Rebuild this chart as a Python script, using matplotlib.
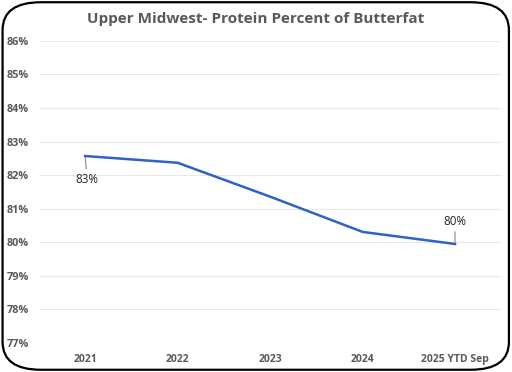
import matplotlib.pyplot as plt
from matplotlib.patches import FancyBboxPatch
from matplotlib.ticker import FuncFormatter

# data
years = ["2021", "2022", "2023", "2024", "2025 YTD Sep"]
protein_pct = [82.57, 82.37, 81.36, 80.31, 79.95]
y_ticks = [77, 78, 79, 80, 81, 82, 83, 84, 85, 86]

plt.rcParams["font.family"] = ["Open Sans", "DejaVu Sans"]

fig = plt.figure(figsize=(5.12, 3.72), dpi=100)

# rounded frame round the whole chart
frame = FancyBboxPatch((0.005, 0.006), 0.989, 0.988,
                       boxstyle="round,pad=0,rounding_size=0.075",
                       transform=fig.transFigure, facecolor="none",
                       edgecolor="black", linewidth=1.6, zorder=-1)
fig.patches.append(frame)

ax = fig.add_axes([0.076, 0.078, 0.903, 0.812])
ax.set_facecolor("none")

x = list(range(len(years)))
ax.plot(x, protein_pct, color="#2F62C8", linewidth=1.8)

ax.set_xlim(-0.5, len(years) - 0.5)
ax.set_ylim(77, 86)
ax.set_yticks(y_ticks)
ax.yaxis.set_major_formatter(FuncFormatter(lambda v, p: f"{v:.0f}%"))
ax.set_xticks(x)
ax.set_xticklabels(years)

ax.grid(axis="y", color="#E8E8E8", linewidth=0.8)
ax.set_axisbelow(True)
for s in ax.spines.values():
    s.set_visible(False)
ax.tick_params(length=0, labelsize=7.5, colors="#595959")
for lbl in ax.get_xticklabels() + ax.get_yticklabels():
    lbl.set_fontweight("bold")
ax.tick_params(axis="x", pad=8)
ax.tick_params(axis="y", pad=7, labelsize=7.8)

# data labels with leader lines
ax.annotate(f"{protein_pct[0]:.0f}%", xy=(x[0], protein_pct[0]),
            xytext=(x[0] + 0.02, protein_pct[0] - 0.7),
            ha="center", va="center", fontsize=8.3, color="#222222",
            arrowprops=dict(arrowstyle="-", color="#888888", lw=0.8,
                            shrinkA=1, shrinkB=1))
ax.annotate(f"{protein_pct[-1]:.0f}%", xy=(x[-1], protein_pct[-1]),
            xytext=(x[-1], protein_pct[-1] + 0.68),
            ha="center", va="center", fontsize=8.3, color="#222222",
            arrowprops=dict(arrowstyle="-", color="#888888", lw=0.8,
                            shrinkA=1, shrinkB=1))

fig.text(0.5, 0.95, "Upper Midwest- Protein Percent of Butterfat",
         ha="center", va="center", fontsize=11, fontweight="bold",
         color="#595959")

fig.savefig("out.png", dpi=100)
